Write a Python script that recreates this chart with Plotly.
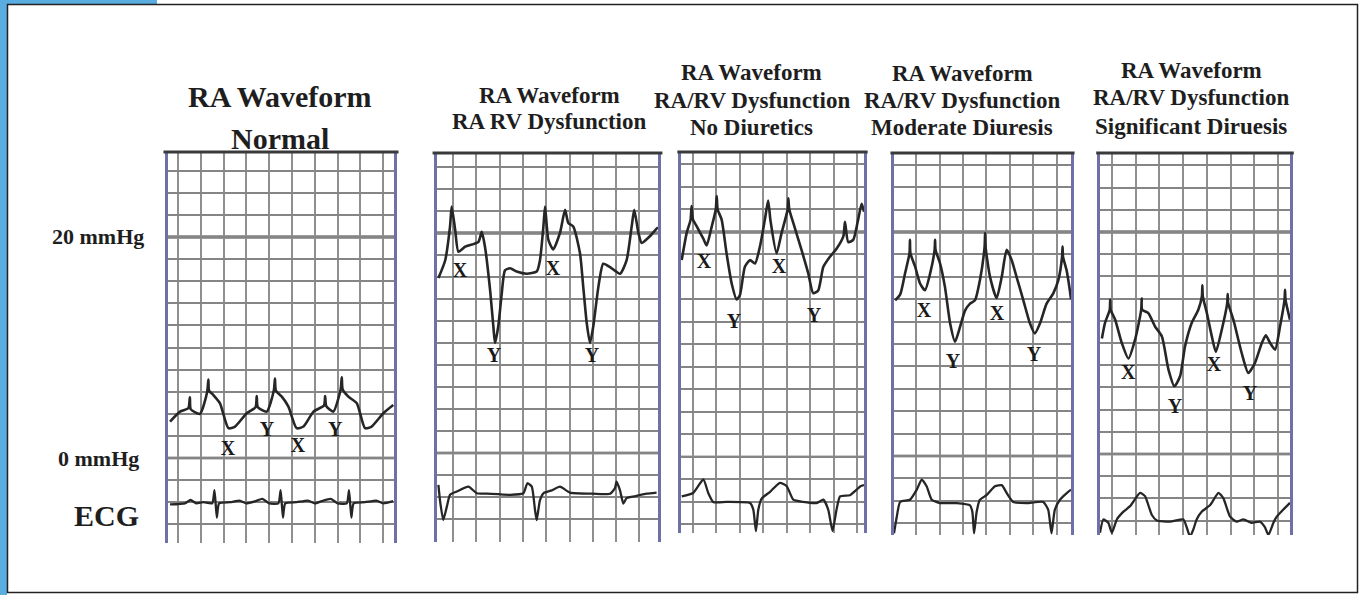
import plotly.graph_objects as go

W, H = 1361, 595

# ---------------- data (time in grid boxes, pressure in mmHg) ----------------
# Panel 1: Normal
normal_t = [-0.35, 0.09, 0.45, 0.52, 0.56, 0.96, 1.28, 1.33, 1.36, 1.55, 1.84, 2.21, 2.5, 3.01, 3.40, 3.45,
            3.50, 3.89, 4.2, 4.25, 4.29, 4.55, 4.84, 5.2, 5.5, 5.94, 6.40, 6.45, 6.50, 6.81, 7.13, 7.18,
            7.22, 7.47, 7.84, 8.2, 8.49, 9.0, 9.44]
normal_p = [3.3, 4.2, 4.5, 5.5, 4.4, 4.0, 6.0, 7.1, 6.1, 5.7, 4.95, 2.7, 2.85, 4.05, 4.6, 5.6,
            4.6, 4.2, 6.1, 7.2, 6.1, 5.55, 4.65, 2.7, 2.85, 4.2, 4.75, 5.6, 4.7, 4.2, 6.2, 7.3,
            6.2, 5.55, 4.95, 2.7, 2.85, 4.05, 4.8]
normal_ecg_t = [-0.35, 0.3, 0.55, 0.8, 1.1, 1.5, 1.6, 1.7, 1.8, 2.3, 2.7, 3.0, 3.4, 3.7, 4.0, 4.4, 4.5,
                4.6, 4.7, 5.2, 5.7, 6.0, 6.3, 6.7, 7.0, 7.4, 7.5, 7.6, 7.7, 8.2, 8.7, 9.0, 9.43]
normal_ecg = [-4.2, -4.1, -3.8, -4.1, -4.0, -4.1, -2.9, -5.4, -4.1, -4.0, -3.85, -4.1, -3.9, -3.7, -4.1,
              -4.1, -2.9, -5.4, -4.1, -4.0, -3.85, -4.1, -3.9, -3.7, -4.1, -4.1, -2.9, -5.4, -4.1,
              -4.0, -3.85, -4.1, -3.9]
normal_lbl_t = [2.19, 3.90, 5.26, 6.89]
normal_lbl_p = [0.72, 2.44, 1.0, 2.44]

# Panel 2: RA RV Dysfunction
rvd_t = [-0.63, -0.34, -0.13, -0.06, 0.09, 0.23, 0.52, 1.09, 1.23, 1.37, 1.59, 1.73, 1.80, 1.94, 2.09,
         2.23, 2.45, 2.73, 3.16, 3.59, 3.73, 3.88, 3.95, 4.09, 4.30, 4.59, 4.81, 4.95, 5.16, 5.45,
         5.59, 5.74, 5.88, 6.02, 6.24, 6.45, 6.74, 7.17, 7.45, 7.67, 7.78, 7.96, 8.10, 8.45, 8.74, 8.80]
rvd_p = [15.9, 17.5, 20.6, 22.4, 20.3, 18.3, 18.75, 19.2, 20.1, 18.75, 14.8, 11.5, 10.0, 11.5, 14.5,
         16.6, 16.8, 16.5, 16.3, 16.5, 17.5, 20.6, 22.4, 19.4, 18.5, 20.0, 22.1, 20.9, 20.6, 18.15,
         15.1, 11.8, 10.0, 11.5, 15.1, 17.2, 16.9, 16.3, 17.5, 20.6, 22.1, 20.0, 19.1, 19.7, 20.4, 20.5]
rvd_ecg_t = [-0.63, -0.55, -0.42, -0.27, -0.13, 0.16, 0.66, 1.02, 1.45, 2.45, 3.02, 3.19, 3.38, 3.52,
             3.59, 3.73, 3.88, 4.24, 4.59, 5.02, 6.02, 6.74, 6.95, 7.02, 7.17, 7.31, 7.45, 7.88, 8.31, 8.74]
rvd_ecg = [-2.9, -4.5, -6.1, -4.9, -3.8, -3.5, -3.06, -3.66, -3.7, -3.8, -3.66, -2.75, -3.06, -5.2,
           -6.1, -4.3, -3.66, -3.4, -3.06, -3.6, -3.7, -3.7, -3.2, -2.6, -3.4, -4.6, -4.1, -3.9, -3.7, -3.6]
rvd_lbl_t = [0.30, 1.76, 4.29, 5.97]
rvd_lbl_p = [16.45, 8.7, 16.6, 8.7]

# Panel 3: RA/RV Dysfunction, No Diuretics
nod_t = [-0.48, -0.27, -0.10, -0.06, 0.0, 0.16, 0.44, 0.58, 0.80, 0.97, 1.01, 1.05, 1.22, 1.43, 1.65,
         1.86, 2.0, 2.21, 2.43, 2.64, 2.85, 3.06, 3.2, 3.3, 3.56, 3.77, 4.03, 4.06, 4.10, 4.27, 4.62,
         4.91, 5.12, 5.33, 5.55, 5.83, 6.11, 6.40, 6.47, 6.61, 6.82, 7.03, 7.18, 7.28]
nod_p = [17.5, 19.9, 21.1, 22.3, 21.1, 20.5, 19.4, 18.8, 20.5, 22.0, 23.2, 22.0, 21.1, 18.1, 15.4,
         14.0, 14.4, 16.9, 17.5, 17.2, 18.7, 21.1, 22.8, 21.0, 18.1, 19.9, 22.0, 23.0, 22.0, 20.8, 18.4,
         16.3, 14.55, 14.8, 16.9, 17.8, 18.5, 19.6, 20.9, 19.1, 19.3, 21.1, 22.5, 21.8]
nod_ecg_t = [-0.48, 0.01, 0.44, 0.65, 0.86, 1.43, 2.43, 2.57, 2.68, 2.78, 2.92, 3.28, 3.70, 3.99, 4.27,
             4.69, 5.26, 5.55, 5.76, 5.94, 6.11, 6.26, 6.68, 6.97, 7.13, 7.28]
nod_ecg = [-3.5, -3.2, -2.0, -3.2, -4.0, -4.0, -4.1, -4.7, -6.6, -4.7, -3.7, -3.1, -2.3, -2.6, -3.8,
           -4.0, -4.1, -3.8, -4.7, -6.6, -4.7, -3.5, -3.4, -2.9, -2.6, -2.5]
nod_lbl_t = [0.47, 1.74, 3.66, 5.15]
nod_lbl_p = [17.2, 11.9, 16.8, 12.4]

# Panel 4: RA/RV Dysfunction, Moderate Diuresis
mod_t = [-0.89, -0.68, -0.47, -0.28, -0.26, -0.24, -0.04, 0.17, 0.38, 0.60, 0.79, 0.81, 0.83, 1.02,
         1.23, 1.45, 1.66, 1.87, 2.09, 2.30, 2.51, 2.72, 2.92, 2.94, 2.96, 3.15, 3.43, 3.65, 3.86, 4.07,
         4.28, 4.57, 4.85, 5.06, 5.28, 5.56, 5.84, 6.06, 6.22, 6.24, 6.26, 6.41, 6.55, 6.60]
mod_p = [13.9, 14.4, 16.3, 18.1, 19.3, 18.1, 16.9, 15.4, 14.8, 16.3, 18.4, 19.3, 18.4, 17.2,
         15.1, 11.85, 10.2, 11.5, 13.0, 13.6, 13.9, 15.7, 18.7, 19.9, 18.7, 16.0, 14.1, 16.0, 18.4, 17.5,
         16.0, 13.9, 11.85, 10.95, 11.85, 13.6, 14.5, 15.7, 17.8, 18.7, 17.8, 16.6, 14.8, 14.0]
mod_ecg_t = [-0.94, -0.82, -0.68, -0.26, 0.03, 0.24, 0.45, 0.67, 1.02, 1.73, 2.30, 2.40, 2.47, 2.58,
             2.72, 3.0, 3.36, 3.65, 3.86, 4.14, 4.71, 5.42, 5.63, 5.77, 5.91, 6.13, 6.48, 6.60]
mod_ecg = [-6.9, -5.4, -4.1, -3.9, -3.0, -2.1, -2.7, -3.9, -4.2, -4.2, -4.4, -5.0, -6.9, -5.0,
           -3.9, -3.5, -2.7, -2.6, -3.3, -4.1, -4.2, -4.1, -4.8, -6.9, -4.8, -3.9, -3.2, -3.0]
mod_lbl_t = [0.34, 1.57, 3.45, 5.02]
mod_lbl_p = [12.9, 8.3, 12.6, 8.9]

# Panel 5: RA/RV Dysfunction, Significant Diuresis
sig_t = [-0.43, -0.30, -0.10, -0.08, -0.06, 0.13, 0.41, 0.69, 0.97, 1.23, 1.25, 1.27, 1.53, 1.81, 2.10,
         2.38, 2.63, 2.87, 3.08, 3.36, 3.64, 3.79, 3.81, 3.83, 4.0, 4.21, 4.38, 4.63, 4.86, 4.88, 4.90,
         5.12, 5.47, 5.75, 6.03, 6.32, 6.49, 6.67, 6.88, 7.09, 7.28, 7.30, 7.32, 7.51]
sig_p = [10.4, 11.8, 13.0, 13.9, 13.0, 12.1, 10.0, 8.6, 10.3, 13.0, 14.0, 13.0, 12.7, 11.5, 10.6,
         7.6, 6.1, 7.0, 9.7, 11.8, 13.0, 14.2, 15.2, 14.2, 12.7, 10.6, 9.2, 11.2, 13.6, 14.4, 13.6,
         12.1, 9.1, 7.3, 8.2, 10.0, 10.7, 10.0, 9.4, 11.5, 13.9, 14.8, 13.9, 12.1]
sig_ecg_t = [-0.51, -0.37, -0.16, -0.01, 0.20, 0.48, 0.76, 1.18, 1.39, 1.68, 1.89, 2.45, 3.01, 3.15,
             3.29, 3.43, 3.57, 3.78, 4.14, 4.49, 4.70, 4.98, 5.26, 5.54, 5.89, 6.24, 6.45, 6.60, 6.81,
             6.95, 7.23, 7.51]
sig_ecg = [-7.1, -5.9, -6.2, -7.1, -5.9, -5.2, -4.7, -3.5, -3.8, -5.5, -6.0, -6.1, -5.9, -6.6,
           -7.45, -6.8, -5.9, -5.2, -4.6, -3.5, -4.0, -5.65, -6.1, -5.9, -6.2, -6.1, -6.6, -7.3, -6.2,
           -5.65, -5.0, -4.4]
sig_lbl_t = [0.68, 2.66, 4.3, 5.82]
sig_lbl_p = [7.2, 4.1, 7.9, 5.3]

wave_labels = ["X", "Y", "X", "Y"]
reference_levels = [0, 20]          # mmHg lines drawn bold
level_labels = ["0 mmHg", "20 mmHg"]

titles = [
    ["RA Waveform", "Normal"],
    ["RA Waveform", "RA RV Dysfunction"],
    ["RA Waveform", "RA/RV Dysfunction", "No Diuretics"],
    ["RA Waveform", "RA/RV Dysfunction", "Moderate Diuresis"],
    ["RA Waveform", "RA/RV Dysfunction", "Significant Diruesis"],
]

series = [
    (normal_t, normal_p, normal_ecg_t, normal_ecg, normal_lbl_t, normal_lbl_p),
    (rvd_t, rvd_p, rvd_ecg_t, rvd_ecg, rvd_lbl_t, rvd_lbl_p),
    (nod_t, nod_p, nod_ecg_t, nod_ecg, nod_lbl_t, nod_lbl_p),
    (mod_t, mod_p, mod_ecg_t, mod_ecg, mod_lbl_t, mod_lbl_p),
    (sig_t, sig_p, sig_ecg_t, sig_ecg, sig_lbl_t, sig_lbl_p),
]

# ---------------- layout geometry (pixels) ----------------
panels = [
    dict(px=(168, 394, 152, 543), xr=(-0.44, 9.47), yr=(-7.69, 27.69)),
    dict(px=(437, 658, 153, 542), xr=(-0.69, 8.80), yr=(-8.09, 27.27)),
    dict(px=(681, 864, 152, 533), xr=(-0.51, 7.28), yr=(-6.76, 27.11)),
    dict(px=(894, 1071, 153, 535), xr=(-0.94, 6.60), yr=(-7.05, 27.05)),
    dict(px=(1100, 1290, 153, 535), xr=(-0.51, 7.51), yr=(-7.30, 27.12)),
]
title_pos = [
    (280, [97, 138], 30),
    (549, [96, 122], 23),
    (752, [72, 100, 127], 23),
    (962, [73, 100, 127], 23),
    (1191, [70, 98, 126], 23),
]

SERIF = "Times New Roman, Liberation Serif, Tinos, serif"
INK = "#262626"

fig = go.Figure()
shapes = []
annotations = []


def px_x(v):
    return v / W


def px_y(v):
    return 1 - v / H


def bold(s):
    return "<b>" + s + "</b>"


# frame
shapes.append(dict(type="rect", xref="paper", yref="paper", x0=0, x1=px_x(7), y0=0, y1=1,
                   fillcolor="#5aade0", line=dict(width=0), layer="below"))
shapes.append(dict(type="rect", xref="paper", yref="paper", x0=0, x1=px_x(157), y0=px_y(4), y1=1,
                   fillcolor="#5aade0", line=dict(width=0), layer="below"))
shapes.append(dict(type="rect", xref="paper", yref="paper", x0=px_x(7.5), x1=px_x(1357.5),
                   y0=px_y(592.5), y1=px_y(4.5), line=dict(color="#222", width=1.5), layer="below"))

for i, (pan, ser) in enumerate(zip(panels, series)):
    n = "" if i == 0 else str(i + 1)
    l, r, t, b = pan["px"]
    xa, ya = "xaxis" + n, "yaxis" + n
    fig.layout[xa] = dict(domain=[px_x(l), px_x(r)], range=list(pan["xr"]), dtick=1, tick0=0,
                          showgrid=True, gridcolor="#8f8f8f", gridwidth=2, zeroline=False,
                          showticklabels=False, ticks="", showline=False, fixedrange=True,
                          anchor="y" + n)
    fig.layout[ya] = dict(domain=[px_y(b), px_y(t)], range=list(pan["yr"]), dtick=2, tick0=0,
                          showgrid=True, gridcolor="#858585", gridwidth=2, zeroline=False,
                          showticklabels=False, ticks="", showline=True, linecolor="#6f70a8",
                          linewidth=2.5, mirror=True, fixedrange=True, anchor="x" + n)
    tt, pp, et, ev, lt, lp = ser
    fig.add_trace(go.Scatter(x=tt, y=pp, mode="lines", xaxis="x" + n, yaxis="y" + n,
                             line=dict(color=INK, width=2.6, shape="spline", smoothing=0.6),
                             showlegend=False, hoverinfo="skip"))
    fig.add_trace(go.Scatter(x=et, y=ev, mode="lines", xaxis="x" + n, yaxis="y" + n,
                             line=dict(color=INK, width=2.3, shape="spline", smoothing=0.5),
                             showlegend=False, hoverinfo="skip"))
    fig.add_trace(go.Scatter(x=lt, y=lp, mode="text", text=[bold(s) for s in wave_labels],
                             xaxis="x" + n, yaxis="y" + n,
                             textfont=dict(family=SERIF, size=20, color="#1a1a1a"),
                             showlegend=False, hoverinfo="skip"))
    for lvl in reference_levels:
        shapes.append(dict(type="line", xref="x" + n + " domain", yref="y" + n, x0=0, x1=1,
                           y0=lvl, y1=lvl, line=dict(color="#3a3a3a", width=2.8 if lvl else 2.3),
                           layer="below"))
    shapes.append(dict(type="line", xref="x" + n + " domain", yref="y" + n + " domain",
                       x0=-0.02, x1=1.02, y0=1, y1=1, line=dict(color="#3a3a3a", width=3.2)))
    cx, ys, fs = title_pos[i]
    for txt, yy in zip(titles[i], ys):
        annotations.append(dict(text=bold(txt), xref="paper", yref="paper", x=px_x(cx), y=px_y(yy),
                                xanchor="center", yanchor="middle", showarrow=False,
                                font=dict(family=SERIF, size=fs, color="#1e1e1e")))

for txt, lvl in zip(level_labels, reference_levels):
    annotations.append(dict(text=bold(txt), xref="paper", yref="y", x=px_x(98), y=lvl,
                            xanchor="center", yanchor="middle", showarrow=False,
                            font=dict(family=SERIF, size=22, color="#1e1e1e")))
annotations.append(dict(text=bold("ECG"), xref="paper", yref="paper", x=px_x(106), y=px_y(515),
                        xanchor="center", yanchor="middle", showarrow=False,
                        font=dict(family=SERIF, size=30, color="#1e1e1e")))

fig.update_layout(width=W, height=H, margin=dict(l=0, r=0, t=0, b=0),
                  paper_bgcolor="white", plot_bgcolor="white",
                  shapes=shapes, annotations=annotations, showlegend=False)

fig.write_html("out.html")
